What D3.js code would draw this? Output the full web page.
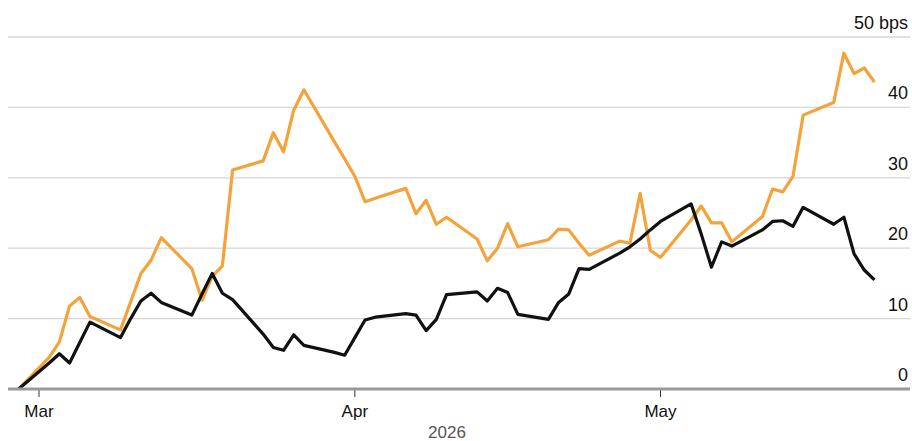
<!DOCTYPE html>
<html>
<head>
<meta charset="utf-8">
<script src="https://cdn.jsdelivr.net/npm/d3@7"></script>
<style>
  html, body { margin: 0; padding: 0; background: #fff; }
  svg { display: block; font-family: "Liberation Sans", Arial, sans-serif; }
</style>
</head>
<body>
<svg id="chart" width="912" height="441"></svg>
<script>
// trading days
const dates = [
  "2026-02-27",
  "2026-03-02", "2026-03-03", "2026-03-04", "2026-03-05", "2026-03-06",
  "2026-03-09", "2026-03-10", "2026-03-11", "2026-03-12", "2026-03-13",
  "2026-03-16", "2026-03-17", "2026-03-18", "2026-03-19", "2026-03-20",
  "2026-03-23", "2026-03-24", "2026-03-25", "2026-03-26", "2026-03-27",
  "2026-03-30", "2026-03-31", "2026-04-01", "2026-04-02", "2026-04-03",
  "2026-04-06", "2026-04-07", "2026-04-08", "2026-04-09", "2026-04-10",
  "2026-04-13", "2026-04-14", "2026-04-15", "2026-04-16", "2026-04-17",
  "2026-04-20", "2026-04-21", "2026-04-22", "2026-04-23", "2026-04-24",
  "2026-04-27", "2026-04-28", "2026-04-29", "2026-04-30", "2026-05-01",
  "2026-05-04", "2026-05-05", "2026-05-06", "2026-05-07", "2026-05-08",
  "2026-05-11", "2026-05-12", "2026-05-13", "2026-05-14", "2026-05-15",
  "2026-05-18", "2026-05-19", "2026-05-20", "2026-05-21", "2026-05-22"
];

// orange series (bps)
const orangeValues = [
  0,
  4.5, 6.7, 11.8, 13.0, 10.3,
  8.4, 12.4, 16.4, 18.3, 21.5,
  17.1, 12.6, 16.0, 17.5, 31.1,
  32.4, 36.4, 33.7, 39.6, 42.5,
  35.1, 32.7, 30.2, 26.6, 27.1,
  28.5, 24.9, 26.8, 23.4, 24.4,
  21.3, 18.2, 20.0, 23.5, 20.2,
  21.2, 22.7, 22.6, 20.7, 19.0,
  21.0, 20.7, 27.8, 19.7, 18.7,
  24.0, 26.0, 23.6, 23.6, 20.9,
  24.5, 28.4, 28.0, 30.2, 38.9,
  40.7, 47.7, 44.8, 45.6, 43.6
];

// black series (bps)
const blackValues = [
  0,
  3.7, 5.0, 3.7, 6.6, 9.5,
  7.3, 10.0, 12.5, 13.6, 12.3,
  10.5, 13.5, 16.4, 13.6, 12.7,
  7.8, 5.9, 5.5, 7.7, 6.2,
  5.2, 4.8, 7.3, 9.8, 10.2,
  10.7, 10.5, 8.3, 9.9, 13.4,
  13.8, 12.5, 14.3, 13.7, 10.6,
  9.9, 12.3, 13.5, 17.1, 17.0,
  19.3, 20.2, 21.3, 22.6, 23.8,
  26.3, 22.0, 17.3, 20.9, 20.3,
  22.6, 23.8, 23.9, 23.1, 25.8,
  23.4, 24.4, 19.2, 16.9, 15.5
];

const yTicks = [0, 10, 20, 30, 40, 50];
const monthTicks = ["2026-03-01", "2026-04-01", "2026-05-01"];
const yearLabel = "2026";

const parse = d3.utcParse("%Y-%m-%d");
const days = dates.map(parse);

const svg = d3.select("#chart");
const gridLeft = 8, gridRight = 910;

const x = d3.scaleUtc()
  .domain([parse("2026-03-01"), parse("2026-05-01")])
  .range([39, 660.5]);

const y = d3.scaleLinear()
  .domain([0, 50])
  .range([389, 37]);

// gridlines
svg.append("g")
  .selectAll("line")
  .data(yTicks.filter(d => d > 0))
  .join("line")
  .attr("x1", gridLeft)
  .attr("x2", gridRight)
  .attr("y1", d => y(d))
  .attr("y2", d => y(d))
  .attr("stroke", "#d6d6d6")
  .attr("stroke-width", 1.3);

// y labels
svg.append("g")
  .selectAll("text")
  .data(yTicks)
  .join("text")
  .attr("x", 908)
  .attr("y", d => y(d) - 8)
  .attr("text-anchor", "end")
  .attr("font-size", 18)
  .attr("fill", "#111")
  .text(d => d === 50 ? "50 bps" : d);

// x axis ticks + labels
const xAxis = svg.append("g");
xAxis.selectAll("line")
  .data(monthTicks.map(parse))
  .join("line")
  .attr("x1", d => x(d))
  .attr("x2", d => x(d))
  .attr("y1", y(0))
  .attr("y2", y(0) + 8)
  .attr("stroke", "#333")
  .attr("stroke-width", 1);

xAxis.selectAll("text")
  .data(monthTicks.map(parse))
  .join("text")
  .attr("x", d => x(d))
  .attr("y", 417)
  .attr("text-anchor", "middle")
  .attr("font-size", 17)
  .attr("fill", "#111")
  .text(d => d3.utcFormat("%b")(d));

svg.append("text")
  .attr("x", 447)
  .attr("y", 438)
  .attr("text-anchor", "middle")
  .attr("font-size", 17)
  .attr("fill", "#555")
  .text(yearLabel);

// lines
const line = d3.line()
  .x(d => x(d[0]))
  .y(d => y(d[1]));

svg.append("path")
  .datum(days.map((d, i) => [d, orangeValues[i]]))
  .attr("d", line)
  .attr("fill", "none")
  .attr("stroke", "#f4a33a")
  .attr("stroke-width", 3.2)
  .attr("stroke-linejoin", "round");

svg.append("path")
  .datum(days.map((d, i) => [d, blackValues[i]]))
  .attr("d", line)
  .attr("fill", "none")
  .attr("stroke", "#111")
  .attr("stroke-width", 3.2)
  .attr("stroke-linejoin", "round");

// baseline on top
svg.append("line")
  .attr("x1", gridLeft)
  .attr("x2", gridRight)
  .attr("y1", y(0))
  .attr("y2", y(0))
  .attr("stroke", "#999")
  .attr("stroke-width", 3);
</script>
</body>
</html>
